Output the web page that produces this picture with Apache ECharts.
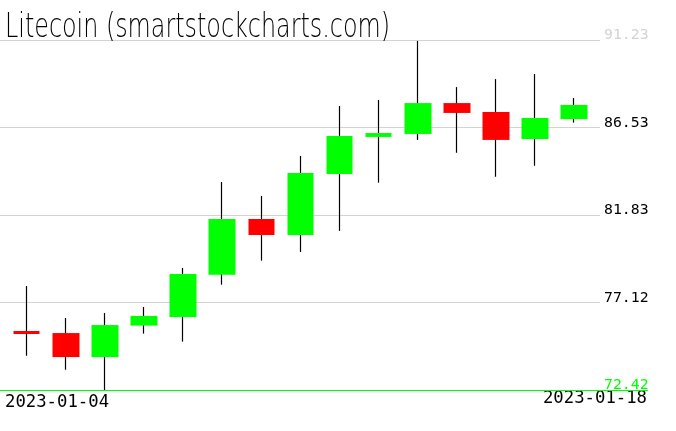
<!DOCTYPE html>
<html>
<head>
<meta charset="utf-8">
<script src="https://cdn.jsdelivr.net/npm/echarts@6/dist/echarts.min.js"></script>
<style>html,body{margin:0;padding:0;background:#fff}#c{width:676px;height:431px}</style>
</head>
<body>
<div id="c"></div>
<script>
// ---- data ----
const dates  = ['2023-01-04','2023-01-05','2023-01-06','2023-01-07','2023-01-08','2023-01-09','2023-01-10','2023-01-11','2023-01-12','2023-01-13','2023-01-14','2023-01-15','2023-01-16','2023-01-17','2023-01-18'];
const opens  = [75.59, 75.48, 74.19, 75.88, 76.34, 78.62, 81.61, 80.75, 84.03, 86.02, 86.18, 87.84, 87.36, 85.91, 86.98];
const closes = [75.43, 74.19, 75.91, 76.40, 78.65, 81.61, 80.75, 84.08, 86.07, 86.23, 87.84, 87.31, 85.86, 87.04, 87.74];
const lows   = [74.26, 73.51, 72.42, 75.45, 75.02, 78.08, 79.37, 79.84, 80.97, 83.56, 85.86, 85.17, 83.88, 84.47, 86.79];
const highs  = [78.01, 76.29, 76.56, 76.88, 78.98, 83.60, 82.85, 85.00, 87.68, 88.01, 91.18, 88.70, 89.13, 89.40, 88.11];
const yTicks = [72.42, 77.12, 81.83, 86.53, 91.23];
const xLabels = ['2023-01-04', '2023-01-18'];
const titleText = 'Litecoin (smartstockcharts.com)';

const DAY = 86400000;
const ts = d => { const p = d.split('-').map(Number); return new Date(p[0], p[1]-1, p[2]).getTime(); };
const wickData = dates.map((d,i) => [ts(d), opens[i], closes[i], lows[i], highs[i]]);
const bodyData = dates.map((d,i) => [ts(d), opens[i], closes[i], Math.min(opens[i],closes[i]), Math.max(opens[i],closes[i])]);

// fit the thin title font to the reference title width
const titleFont = '200 34px "DejaVu Sans"';
const mctx = document.createElement('canvas').getContext('2d');
mctx.font = titleFont;
const titleScaleX = 385 / mctx.measureText(titleText).width;

const chart = echarts.init(document.getElementById('c'), null, {renderer:'canvas'});
chart.setOption({
  animation: false,
  backgroundColor: '#fff',
  grid: {left: 0, right: 76, top: 40, bottom: 41},
  xAxis: {
    type: 'time',
    min: ts(dates[0]) - 0.683*DAY,
    max: ts(dates[0]) + 14.66*DAY,
    axisLine: {show: true, lineStyle: {color: '#00ff00', width: 1}},
    axisTick: {show: false}, axisLabel: {show: false}, splitLine: {show: false}
  },
  yAxis: {
    type: 'value', position: 'right', scale: true,
    min: yTicks[0], max: yTicks[yTicks.length-1],
    axisLine: {show: false},
    axisTick: {show: false, customValues: yTicks},
    axisLabel: {
      customValues: yTicks, margin: 4, verticalAlign: 'bottom', lineHeight: 9,
      fontFamily: 'DejaVu Sans Mono', fontSize: 14.8,
      formatter: v => v.toFixed(2),
      color: (v, i) => i === 0 ? '#00ff00' : (i === yTicks.length-1 ? '#d3d3d3' : '#000')
    },
    splitLine: {show: true, lineStyle: {color: '#d3d3d3', width: 1}}
  },
  graphic: [
    {type: 'text', x: 5, y: 11, scaleX: titleScaleX, z: 20,
     style: {text: titleText, font: titleFont, fill: '#000', verticalAlign: 'top'}},
    {type: 'line', shape: {x1: 600, y1: 390.5, x2: 648, y2: 390.5}, style: {stroke: '#00ff00', lineWidth: 1}, z: 10},
    {type: 'text', left: 5, top: 394, style: {text: xLabels[0], font: '17.3px "DejaVu Sans Mono"', fill: '#000'}},
    {type: 'text', right: 29, top: 390, style: {text: xLabels[1], font: '17.3px "DejaVu Sans Mono"', fill: '#000'}}
  ],
  series: [
    {type: 'candlestick', name: 'wick', barWidth: 1, data: wickData, z: 2,
     itemStyle: {color: '#000', color0: '#000', borderColor: '#000', borderColor0: '#000', borderWidth: 1.2}},
    {type: 'candlestick', name: 'body', barWidth: 27, data: bodyData, z: 3,
     itemStyle: {color: '#00ff00', color0: '#ff0000', borderColor: '#00ff00', borderColor0: '#ff0000', borderWidth: 0}}
  ]
});
</script>
</body>
</html>
